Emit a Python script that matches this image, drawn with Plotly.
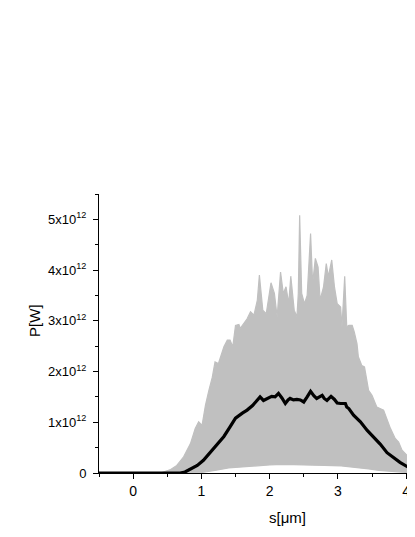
import plotly.graph_objects as go

# 數據單位: 10^12 W
s_upper = [-0.5, 0.40, 0.55, 0.64, 0.74, 0.84, 0.91, 0.96, 1.01, 1.06, 1.11, 1.16, 1.20,
           1.25, 1.33, 1.38, 1.42, 1.46, 1.50, 1.55, 1.57, 1.62, 1.67, 1.72, 1.77, 1.82,
           1.85, 1.90, 1.95, 2.02, 2.07, 2.11, 2.16, 2.20, 2.24, 2.28, 2.31, 2.36, 2.40,
           2.42, 2.44, 2.47, 2.51, 2.55, 2.60, 2.63, 2.67, 2.71, 2.74, 2.79, 2.83, 2.86,
           2.91, 2.95, 2.99, 3.04, 3.06, 3.10, 3.13, 3.16, 3.21, 3.24, 3.28, 3.30, 3.35,
           3.39, 3.43, 3.45, 3.50, 3.57, 3.67, 3.72, 3.77, 3.84, 3.89, 3.94, 4.01, 4.08,
           4.13, 4.30]
p_upper = [0.0, 0.0, 0.07, 0.15, 0.32, 0.58, 0.88, 1.01, 0.94, 1.34, 1.63, 1.89, 2.19,
           2.16, 2.49, 2.62, 2.62, 2.49, 2.91, 2.93, 2.85, 2.95, 3.04, 3.18, 3.11, 3.41,
           3.90, 3.21, 3.14, 3.75, 3.54, 3.08, 3.96, 3.54, 3.67, 3.34, 3.88, 3.21, 3.08,
           3.54, 5.08, 3.54, 3.34, 3.50, 4.72, 3.74, 4.23, 4.06, 3.41, 3.67, 4.13, 3.87,
           4.20, 3.67, 3.34, 3.27, 2.88, 3.88, 2.88, 2.91, 2.91, 2.78, 2.55, 2.29, 2.12,
           2.09, 1.83, 1.63, 1.53, 1.30, 1.24, 1.04, 0.88, 0.68, 0.61, 0.45, 0.35, 0.28,
           0.18, 0.05]

s_lower = [4.30, 4.10, 4.00, 3.80, 3.60, 3.45, 3.30, 3.05, 2.80, 2.50, 2.20, 2.00, 1.70,
           1.40, 1.20, 1.00, 0.80, 0.40, -0.5]
p_lower = [0.0, 0.0, 0.01, 0.03, 0.05, 0.08, 0.10, 0.14, 0.15, 0.16, 0.17, 0.16, 0.13,
           0.10, 0.05, 0.01, 0.0, 0.0, 0.0]

s_mean = [-0.5, 0.0, 0.5, 0.69, 0.76, 0.84, 0.94, 1.03, 1.13, 1.23, 1.33, 1.42, 1.50,
          1.60, 1.67, 1.75, 1.82, 1.86, 1.91, 1.97, 2.03, 2.08, 2.13, 2.18, 2.23, 2.27,
          2.30, 2.35, 2.40, 2.45, 2.50, 2.55, 2.60, 2.65, 2.69, 2.73, 2.77, 2.80, 2.84,
          2.87, 2.90, 2.95, 2.99, 3.04, 3.11, 3.13, 3.16, 3.23, 3.33, 3.43, 3.52, 3.62,
          3.72, 3.82, 3.91, 4.01, 4.13, 4.30]
p_mean = [0.0, 0.0, 0.0, 0.0, 0.02, 0.08, 0.15, 0.25, 0.41, 0.57, 0.72, 0.91, 1.08,
          1.18, 1.24, 1.33, 1.43, 1.50, 1.43, 1.47, 1.51, 1.50, 1.57, 1.48, 1.37, 1.44,
          1.47, 1.44, 1.45, 1.44, 1.40, 1.50, 1.61, 1.52, 1.47, 1.50, 1.53, 1.47, 1.43,
          1.47, 1.51, 1.45, 1.38, 1.37, 1.37, 1.30, 1.27, 1.14, 1.01, 0.84, 0.71, 0.57,
          0.40, 0.29, 0.21, 0.13, 0.06, 0.01]

y_ticks = [0, 1, 2, 3, 4, 5]
y_labels = ["0", "1x10<sup>12</sup>", "2x10<sup>12</sup>", "3x10<sup>12</sup>",
            "4x10<sup>12</sup>", "5x10<sup>12</sup>"]
x_ticks = [0, 1, 2, 3, 4]

FONT = "Arial, Liberation Sans, sans-serif"
GRAY = "#c0c0c0"

fig = go.Figure()

# 灰色: 各次模擬的包絡
fig.add_trace(go.Scatter(
    x=s_upper + s_lower, y=p_upper + p_lower, mode="lines", fill="toself",
    fillcolor=GRAY, line=dict(color=GRAY, width=1.2), hoverinfo="skip"
))

# 黑色: 平均
fig.add_trace(go.Scatter(
    x=s_mean, y=p_mean, mode="lines", line=dict(color="black", width=3.2)
))

axis_common = dict(
    showgrid=False, zeroline=False, showline=True, linecolor="black", linewidth=1,
    ticks="outside", ticklen=5, tickwidth=1, tickcolor="black",
    minor=dict(ticks="outside", ticklen=3, tickwidth=1, tickcolor="black", dtick=0.5),
)

fig.update_xaxes(
    range=[-0.5, 4.13], tickvals=x_ticks, **axis_common,
    tickfont=dict(family=FONT, size=14, color="black"),
)
fig.update_yaxes(
    range=[0, 5.5], tickvals=y_ticks, ticktext=y_labels, **axis_common,
    tickfont=dict(family=FONT, size=13, color="black"), ticklabelstandoff=4,
)

fig.add_annotation(x=2.26, y=-0.161, xref="x", yref="paper", text="s[\u03bcm]",
                   showarrow=False, yanchor="middle", xanchor="center",
                   font=dict(family=FONT, size=15, color="black"))
fig.add_annotation(x=-0.2025, y=0.545, xref="paper", yref="paper", text="P[W]", textangle=-90,
                   showarrow=False, xanchor="center", yanchor="middle",
                   font=dict(family=FONT, size=15, color="black"))

# 頁面 body 有 8px 邊距, 尺寸已扣除
fig.update_layout(
    width=407, height=529,
    margin=dict(l=91, r=0, t=186, b=64),
    paper_bgcolor="white", plot_bgcolor="white",
    showlegend=False,
)

fig.write_html("out.html")
